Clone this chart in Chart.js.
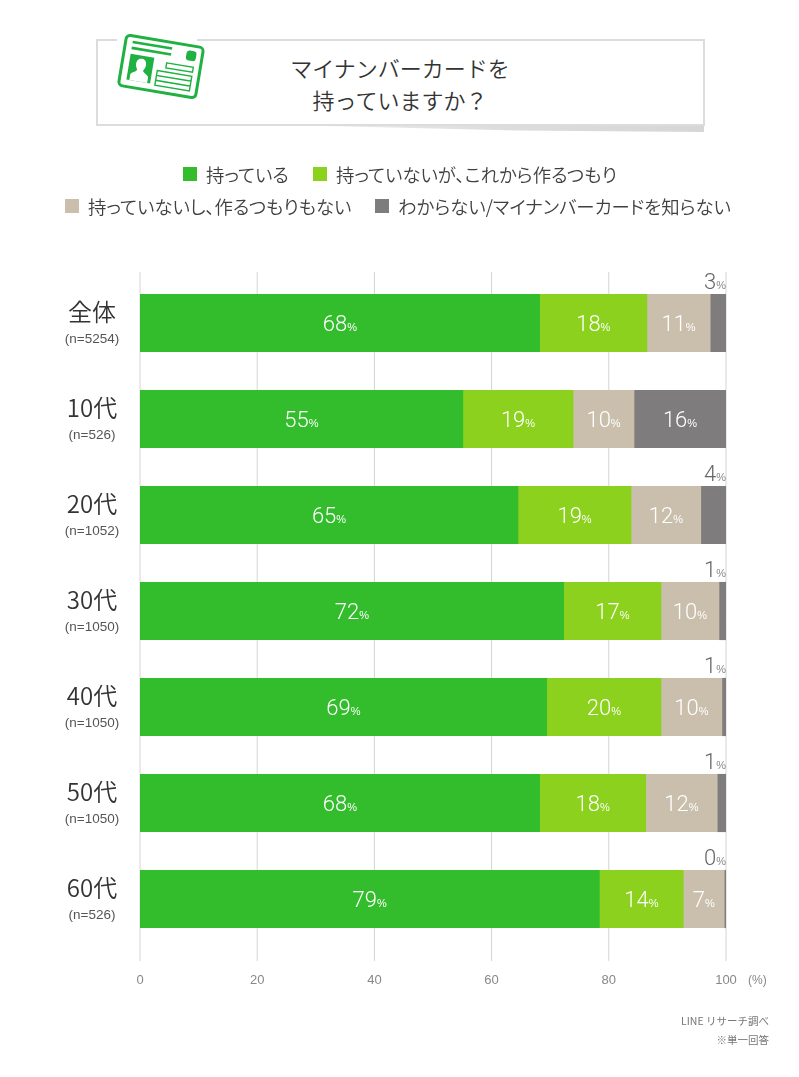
<!DOCTYPE html>
<html lang="ja">
<head>
<meta charset="utf-8">
<title>マイナンバーカードを持っていますか</title>
<script src="https://cdn.jsdelivr.net/npm/chart.js@4"></script>
<style>
  html, body { margin: 0; padding: 0; background: #fff; }
  body { position: relative; width: 799px; height: 1077px; overflow: hidden;
         font-family: "Noto Sans CJK JP", "Noto Sans", sans-serif; color: #333; }
  #chart { position: absolute; left: 0; top: 0; }
  #header { position: absolute; left: 96px; top: 39px; width: 605px; height: 83px;
            border: 2px solid #dcdcdc; background: #fff; }
  #shadow { position: absolute; left: 240px; top: 124px; width: 464px; height: 8px;
            background: linear-gradient(to right, #f2f2f2, #dddddd 55%, #d6d6d6);
            clip-path: polygon(0 0, 100% 0, 100% 100%, 60% 80%); }
  #gap { position: absolute; left: 117px; top: 37px; width: 80px; height: 6px; background: #fff; }
  #title { position: absolute; left: 96px; top: 51px; width: 608px; text-align: center;
           font-size: 22px; line-height: 32px; font-weight: 350; color: #333; }
  #card { position: absolute; left: 111px; top: 27px; }
  .legend { position: absolute; font-size: 18.4px; line-height: 20px; white-space: nowrap;
            color: #404040; font-weight: 350; font-feature-settings: "palt"; }
  .swatch { position: absolute; width: 14px; height: 14px; }
  .note { position: absolute; right: 30px; font-size: 10.5px; line-height: 14px; color: #777; }
</style>
</head>
<body>
<canvas id="chart" width="799" height="1077"></canvas>
<div id="shadow"></div>
<div id="header"></div>
<div id="gap"></div>
<svg id="card" width="100" height="80" viewBox="0 0 100 80">
  <g transform="rotate(9.5 50 39.5)" fill="none" stroke="#1fb141">
    <rect x="11" y="14" width="78" height="51" rx="4" fill="#fff" stroke-width="3"/>
    <path d="M18 20H58M18 26H58" stroke-width="2.6"/>
    <rect x="73" y="19" width="10" height="10" rx="3" fill="#1fb141" stroke="none"/>
    <rect x="18" y="32" width="24" height="26" fill="#1fb141" stroke="none"/>
    <path d="M30 35c-4 0-5 3-5 6 0 3 2 5 2 6-1 2-5 3-6 5v6h18v-6c-1-2-5-3-6-5 0-1 2-3 2-6 0-3-1-6-5-6z" fill="#fff" stroke="none"/>
    <path d="M55 35H82V40H55ZM47 44H82V49H47ZM47 49H82V54H47ZM47 54H82V59H47Z" stroke-width="1.4"/>
  </g>
</svg>
<div id="title">マイナンバーカードを<br>持っていますか&#xFF1F;</div>
<div id="legend"></div>
<div class="note" style="top:1014px">LINE リサーチ調べ</div>
<div class="note" style="top:1033px">※単一回答</div>

<script>
const groups = ["全体", "10代", "20代", "30代", "40代", "50代", "60代"];
const sampleSizes = ["(n=5254)", "(n=526)", "(n=1052)", "(n=1050)", "(n=1050)", "(n=1050)", "(n=526)"];

const seriesNames = [
  "持っている",
  "持っていないが、これから作るつもり",
  "持っていないし、作るつもりもない",
  "わからない/マイナンバーカードを知らない",
];
const seriesColors = ["#33bd2c", "#8bd11d", "#c9bfac", "#7e7c7c"];

// bar lengths
const haveValues = [68.2, 55.1, 64.5, 72.3, 69.4, 68.2, 78.4];
const planValues = [18.3, 18.8, 19.3, 16.6, 19.5, 18.1, 14.3];
const noPlanValues = [10.8, 10.4, 11.9, 9.9, 10.4, 12.2, 7.0];
const unknownValues = [2.7, 15.7, 4.3, 1.2, 0.7, 1.5, 0.3];

// printed percentages
const haveLabels = [68, 55, 65, 72, 69, 68, 79];
const planLabels = [18, 19, 19, 17, 20, 18, 14];
const noPlanLabels = [11, 10, 12, 10, 10, 12, 7];
const unknownLabels = [3, 16, 4, 1, 1, 1, 0];

const xTicks = [0, 20, 40, 60, 80, 100];

const seriesValues = [haveValues, planValues, noPlanValues, unknownValues];
const seriesLabels = [haveLabels, planLabels, noPlanLabels, unknownLabels];

// legend positions, one per series
const legendSpots = [[183, 164], [313, 164], [65, 196], [375, 196]];
const legendBox = document.getElementById("legend");
seriesNames.forEach((name, i) => {
  const [x, y] = legendSpots[i];
  const swatch = document.createElement("div");
  swatch.className = "swatch";
  swatch.style.cssText = `left:${x}px;top:${y + 3}px;background:${seriesColors[i]}`;
  const text = document.createElement("div");
  text.className = "legend";
  text.style.cssText = `left:${x + 23}px;top:${y}px`;
  text.textContent = name;
  legendBox.append(swatch, text);
});

const NUM = 'Roboto, "Liberation Sans", sans-serif';
const SANS = '"Liberation Sans", Arial, sans-serif';
const CJK = '"Noto Sans CJK JP", sans-serif';

function drawPercent(ctx, value, x, y, color, unitColor, anchorRight) {
  const number = String(value);
  ctx.textBaseline = "alphabetic";
  ctx.textAlign = "left";
  ctx.font = `300 22px ${NUM}`;
  const numberWidth = ctx.measureText(number).width;
  ctx.font = `11px ${SANS}`;
  const unitWidth = ctx.measureText("%").width;
  const left = anchorRight ? x - numberWidth - unitWidth : x - (numberWidth + unitWidth) / 2;
  ctx.fillStyle = color;
  ctx.font = `300 22px ${NUM}`;
  ctx.fillText(number, left, y + 8);
  ctx.fillStyle = unitColor;
  ctx.font = `11px ${SANS}`;
  ctx.fillText("%", left + numberWidth, y + 8);
}

const tallGrid = {
  id: "tallGrid",
  beforeDatasetsDraw(chart) {
    const { ctx, chartArea, scales } = chart;
    ctx.save();
    ctx.strokeStyle = "#d4d4d4";
    ctx.lineWidth = 1;
    xTicks.forEach((tick) => {
      const x = scales.x.getPixelForValue(tick);
      ctx.beginPath();
      ctx.moveTo(x, chartArea.top - 3);
      ctx.lineTo(x, chartArea.bottom + 14);
      ctx.stroke();
    });
    ctx.restore();
  },
};

const barText = {
  id: "barText",
  afterDatasetsDraw(chart) {
    const { ctx, scales } = chart;
    ctx.save();
    seriesLabels.forEach((labels, s) => {
      const bars = chart.getDatasetMeta(s).data;
      labels.forEach((label, i) => {
        const bar = bars[i];
        if (s === 3 && label < 5) {
          drawPercent(ctx, label, scales.x.getPixelForValue(100), bar.y - 42, "#666", "#888", true);
        } else {
          drawPercent(ctx, label, (bar.base + bar.x) / 2, bar.y, "#fff", "#fff", false);
        }
      });
    });

    // group names with the sample size underneath
    ctx.textAlign = "center";
    ctx.textBaseline = "middle";
    groups.forEach((group, i) => {
      const y = scales.y.getPixelForTick(i);
      ctx.fillStyle = "#333";
      ctx.font = `350 24px ${CJK}`;
      ctx.fillText(group, 92, y - 11);
      ctx.fillStyle = "#555";
      ctx.font = `13.5px ${SANS}`;
      ctx.fillText(sampleSizes[i], 92, y + 16);
    });

    ctx.textAlign = "left";
    ctx.fillStyle = "#888";
    ctx.font = `12px ${SANS}`;
    ctx.fillText("(%)", scales.x.right + 22, chart.chartArea.bottom + 34);
    ctx.restore();
  },
};

new Chart(document.getElementById("chart").getContext("2d"), {
  type: "bar",
  plugins: [tallGrid, barText],
  data: {
    labels: groups,
    datasets: seriesNames.map((name, i) => ({
      label: name,
      data: seriesValues[i],
      backgroundColor: seriesColors[i],
      borderWidth: 0,
      barThickness: 57.5,
    })),
  },
  options: {
    indexAxis: "y",
    responsive: false,
    animation: false,
    devicePixelRatio: 1,
    layout: { padding: { left: 140, right: 73, top: 275, bottom: 88 } },
    plugins: { legend: { display: false }, tooltip: { enabled: false } },
    scales: {
      x: {
        stacked: true,
        min: 0,
        max: 100,
        border: { display: false },
        grid: { display: false, drawTicks: false },
        afterFit(scale) { scale.height = 42; },
        afterBuildTicks(scale) { scale.ticks = xTicks.map((value) => ({ value })); },
        ticks: {
          autoSkip: false,
          maxRotation: 0,
          padding: 26,
          color: "#888",
          font: { family: "Liberation Sans", size: 13 },
        },
      },
      y: {
        stacked: true,
        border: { display: false },
        grid: { display: false },
        afterFit(scale) { scale.width = 0; },
        ticks: { display: false },
      },
    },
  },
});
</script>
</body>
</html>
